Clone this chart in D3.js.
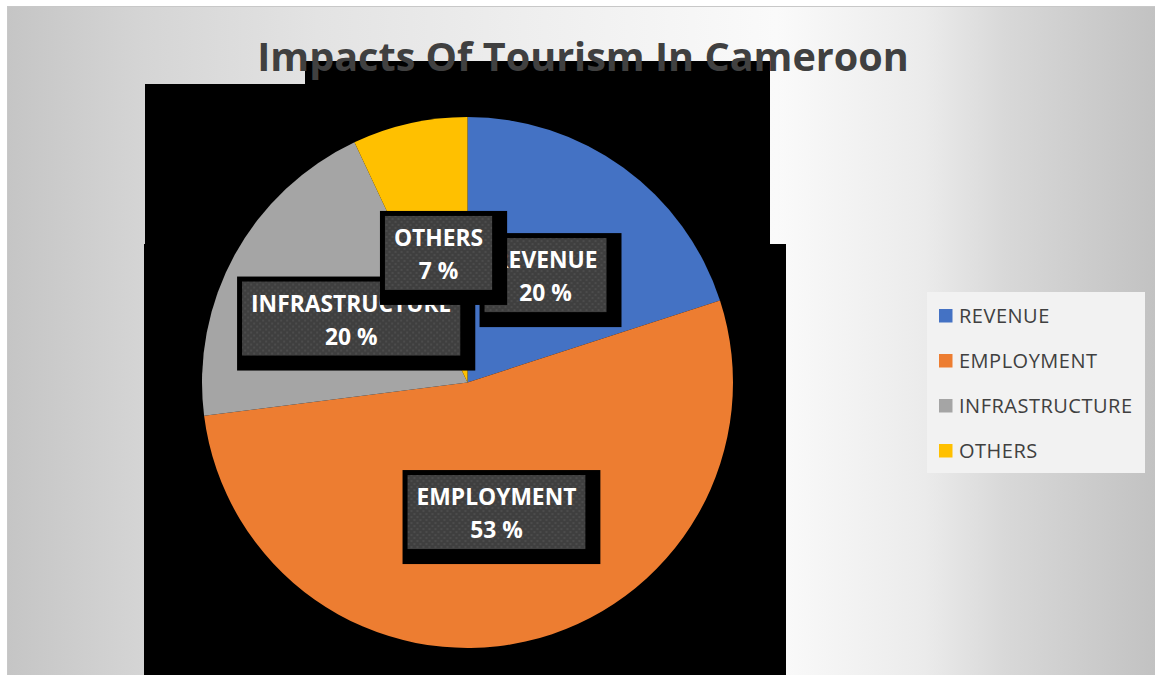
<!DOCTYPE html>
<html>
<head>
<meta charset="utf-8">
<script src="https://cdn.jsdelivr.net/npm/d3@7"></script>
<style>
  html, body { margin: 0; padding: 0; background: #ffffff; }
  svg { display: block; }
</style>
</head>
<body>
<svg id="chart" width="1155" height="675"></svg>
<script>
// Share of tourism impacts (percent)
const categories = ["REVENUE", "EMPLOYMENT", "INFRASTRUCTURE", "OTHERS"];
const shares = [20, 53, 20, 7];
const sliceColors = ["#4472C4", "#ED7D31", "#A5A5A5", "#FFC000"];
const chartTitle = "Impacts Of Tourism In Cameroon";

const W = 1155, H = 675;
const svg = d3.select("#chart");
const defs = svg.append("defs");

// Soft grey backdrop brightening toward the right of the pie
const bg = defs.append("linearGradient").attr("id", "bgGrad")
  .attr("x1", "0").attr("y1", "0").attr("x2", "1").attr("y2", "0");
[[0, "#c5c5c5"], [0.12, "#d5d5d5"], [0.27, "#e3e3e3"], [0.45, "#eeeeee"],
 [0.67, "#fafafa"], [0.8, "#ebebeb"], [0.87, "#d8d8d8"], [1, "#c2c2c2"]]
  .forEach(([o, c]) => bg.append("stop").attr("offset", o).attr("stop-color", c));

// Dotted dark fill used behind the data labels
const pat = defs.append("pattern").attr("id", "dots")
  .attr("width", 6).attr("height", 6).attr("patternUnits", "userSpaceOnUse");
pat.append("rect").attr("width", 6).attr("height", 6).attr("fill", "#3f3f3f");
pat.append("rect").attr("x", 1).attr("y", 1).attr("width", 2).attr("height", 2).attr("fill", "#4c4c4c");
pat.append("rect").attr("x", 4).attr("y", 4).attr("width", 2).attr("height", 2).attr("fill", "#4c4c4c");

// Chart area
svg.append("rect").attr("x", 7).attr("y", 6).attr("width", W - 7).attr("height", H - 6)
  .attr("fill", "url(#bgGrad)");
svg.append("line").attr("x1", 7).attr("y1", 6.5).attr("x2", W).attr("y2", 6.5)
  .attr("stroke", "#c8c8c8");
svg.append("line").attr("x1", 7.5).attr("y1", 6).attr("x2", 7.5).attr("y2", H)
  .attr("stroke", "#c8c8c8");

// Black plot-area backdrop
const backdrop = [
  { x: 145, y: 84, w: 625, h: 160 },
  { x: 305, y: 61, w: 465, h: 23 },
  { x: 144, y: 244, w: 642, h: 431 }
];
svg.append("g").selectAll("rect").data(backdrop).join("rect")
  .attr("x", d => d.x).attr("y", d => d.y).attr("width", d => d.w).attr("height", d => d.h)
  .attr("fill", "#000");

// Title
svg.append("text")
  .attr("x", 583).attr("y", 71)
  .attr("text-anchor", "middle")
  .attr("font-family", "'Open Sans', sans-serif")
  .attr("font-weight", 700)
  .attr("font-size", 39.6)
  .attr("fill", "#404040")
  .text(chartTitle);

// Pie
const cx = 467.5, cy = 382.5, radius = 265.5;
const data = categories.map((c, i) => ({ name: c, value: shares[i], color: sliceColors[i] }));
const pie = d3.pie().value(d => d.value).sort(null);
const arc = d3.arc().innerRadius(0).outerRadius(radius);
const arcs = pie(data);

const gPie = svg.append("g").attr("transform", `translate(${cx},${cy})`);
gPie.selectAll("path").data(arcs).join("path")
  .attr("d", arc)
  .attr("fill", d => d.data.color);

// Data labels: name and percentage on a dotted box with a black frame
const fmt = d => `${d3.format(".0f")(d)} %`;
const labels = gPie.append("g").selectAll("g").data(arcs).join("g")
  .attr("transform", d => `translate(${arc.centroid(d)})`);

labels.each(function (d) {
  const g = d3.select(this);
  const frame = g.append("rect").attr("fill", "#000");
  const box = g.append("rect").attr("fill", "url(#dots)");
  const t1 = g.append("text").attr("y", -7).text(d.data.name);
  const t2 = g.append("text").attr("y", 26).text(fmt(d.data.value));
  g.selectAll("text")
    .attr("text-anchor", "middle")
    .attr("font-family", "'Open Sans', sans-serif")
    .attr("font-weight", 700)
    .attr("font-size", 22.8)
    .attr("fill", "#ffffff");
  const tw = Math.max(t1.node().getComputedTextLength(), t2.node().getComputedTextLength());
  const bw = tw + 18, bh = 74;
  box.attr("x", -bw / 2).attr("y", -bh / 2).attr("width", bw).attr("height", bh);
  frame.attr("x", -bw / 2 - 5).attr("y", -bh / 2 - 5).attr("width", bw + 20).attr("height", bh + 20);
});

// Legend
const lg = svg.append("g");
lg.append("rect").attr("x", 927).attr("y", 292).attr("width", 218).attr("height", 181)
  .attr("fill", "#f2f2f2");
const items = lg.selectAll("g.item").data(data).join("g").attr("class", "item")
  .attr("transform", (d, i) => `translate(939,${309 + i * 45})`);
items.append("rect").attr("width", 13.5).attr("height", 13.5).attr("fill", d => d.color);
items.append("text")
  .attr("x", 20).attr("y", 13.5)
  .attr("font-family", "'Open Sans', sans-serif")
  .attr("font-size", 20)
  .attr("letter-spacing", 0.5)
  .attr("fill", "#404040")
  .text(d => d.name);
</script>
</body>
</html>
